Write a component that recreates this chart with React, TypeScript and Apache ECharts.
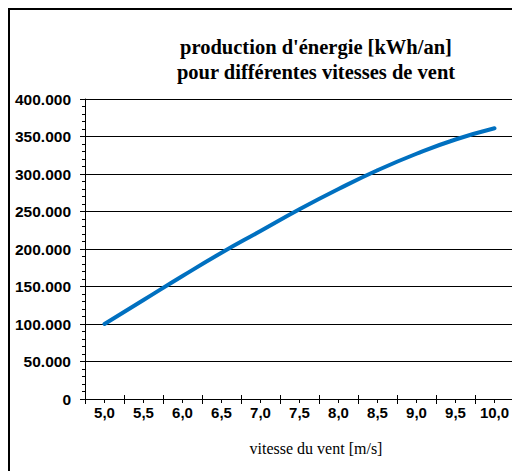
import React, { useEffect, useRef } from "react";
import * as echarts from "echarts";

const categories = ["5,0", "5,5", "6,0", "6,5", "7,0", "7,5", "8,0", "8,5", "9,0", "9,5", "10,0"];
const energy = [100000, 132000, 164000, 195000, 224000, 253000, 280000, 305000, 327000, 346000, 361000];
const titleLines = ["production d'énergie [kWh/an]", "pour différentes vitesses de vent"];
const xAxisName = "vitesse du vent [m/s]";

function fmt(v: number): string {
  if (v === 0) return "0";
  const s = String(Math.round(v));
  return s.replace(/\B(?=(\d{3})+(?!\d))/g, ".");
}

export default function App() {
  const ref = useRef<HTMLDivElement>(null);
  useEffect(() => {
    if (!ref.current) return;
    const chart = echarts.init(ref.current, null, { renderer: "svg" });
    const labelFont = {
      fontFamily: "Liberation Sans, Arial, sans-serif",
      fontWeight: "bold" as const,
      color: "#000",
    };
    const serif = "Liberation Serif, Times New Roman, serif";
    chart.setOption({
      animation: false,
      graphic: [
        {
          type: "text",
          x: 316,
          y: 47,
          style: {
            text: titleLines[0],
            fontFamily: serif,
            fontWeight: "bold",
            fontSize: 20.5,
            fill: "#000",
            align: "center",
            verticalAlign: "middle",
          },
        },
        {
          type: "text",
          x: 316,
          y: 72,
          style: {
            text: titleLines[1],
            fontFamily: serif,
            fontWeight: "bold",
            fontSize: 20.5,
            fill: "#000",
            align: "center",
            verticalAlign: "middle",
          },
        },
        {
          type: "text",
          x: 316,
          y: 448,
          style: {
            text: xAxisName,
            fontFamily: serif,
            fontSize: 16,
            fill: "#000",
            align: "center",
            verticalAlign: "middle",
          },
        },
      ],
      grid: { left: 85, top: 99, width: 429, height: 300, containLabel: false },
      xAxis: [
        {
          type: "category",
          data: categories,
          position: "bottom",
          boundaryGap: true,
          axisLine: { show: true, lineStyle: { color: "#000", width: 1 } },
          axisTick: { show: true, length: 5, inside: false, lineStyle: { color: "#000" } },
          axisLabel: { ...labelFont, fontSize: 15, margin: 6 },
          splitLine: { show: false },
        },
        {
          type: "category",
          data: categories,
          position: "bottom",
          boundaryGap: true,
          axisLine: { show: false },
          axisTick: { show: true, length: 4, inside: true, lineStyle: { color: "#000" } },
          axisLabel: { show: false },
          splitLine: { show: false },
        },
        {
          type: "category",
          data: categories,
          position: "bottom",
          boundaryGap: true,
          axisLine: { show: false },
          axisTick: { show: true, length: 4, inside: false, alignWithLabel: true, lineStyle: { color: "#000" } },
          axisLabel: { show: false },
          splitLine: { show: false },
        },
      ],
      yAxis: {
        type: "value",
        min: 0,
        max: 400000,
        interval: 50000,
        axisLine: { show: true, lineStyle: { color: "#000", width: 1 } },
        axisTick: { show: true, length: 5, lineStyle: { color: "#000" } },
        minorTick: { show: true, splitNumber: 5, length: 3, lineStyle: { color: "#000" } },
        axisLabel: { ...labelFont, fontSize: 15.5, margin: 14, formatter: (v: number) => fmt(v) },
        splitLine: { show: true, lineStyle: { color: "#000", width: 1 } },
      },
      series: [
        {
          type: "line",
          data: energy,
          smooth: true,
          symbol: "none",
          lineStyle: { color: "#0070C0", width: 4, cap: "round" },
        },
      ],
    });
    return () => chart.dispose();
  }, []);
  return (
    <div style={{ position: "fixed", left: 0, top: 0, width: 512, height: 471, overflow: "hidden", background: "#fff" }}>
      <div
        style={{
          position: "absolute",
          left: 8,
          top: 8,
          width: 600,
          height: 600,
          borderLeft: "2px solid #000",
          borderTop: "2px solid #000",
        }}
      />
      <div
        ref={ref}
        style={{ position: "absolute", left: 0, top: 0, width: 540, height: 471 }}
      />
    </div>
  );
}
